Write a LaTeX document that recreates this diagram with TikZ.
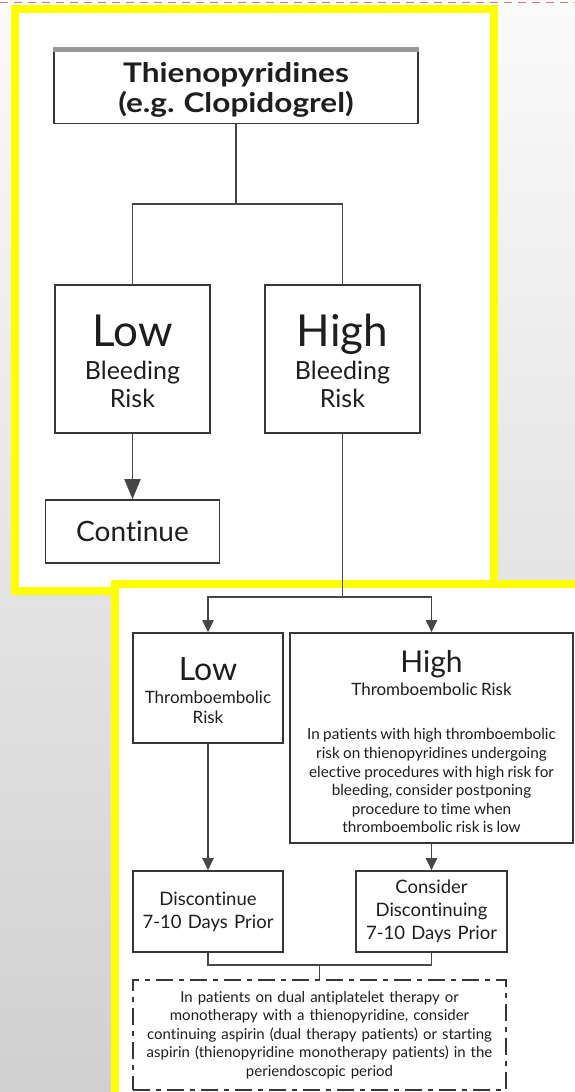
\documentclass[tikz,border=0pt]{standalone}
\usepackage{fontspec}
\setmainfont{Lato}[Ligatures=NoCommon]
\newfontfamily\titlefont{Lato}[Ligatures=NoCommon, FakeStretch=1.17]
\usetikzlibrary{arrows.meta}
\frenchspacing

\definecolor{hiliteyellow}{RGB}{255,255,0}
\definecolor{boxline}{RGB}{55,55,55}
\definecolor{linkline}{RGB}{70,70,70}
\definecolor{inktext}{RGB}{30,30,30}
\definecolor{pagetop}{RGB}{250,250,250}
\definecolor{pagebottom}{RGB}{208,208,208}
\definecolor{cutline}{RGB}{205,125,125}

\tikzset{
  panel/.style={draw=hiliteyellow, line width=8pt, fill=white},
  riskbox/.style={draw=boxline, line width=1.6pt, fill=white, align=center,
    inner sep=0pt, text=inktext},
  notebox/.style={riskbox, dash pattern=on 17pt off 6pt on 5pt off 6pt},
  link/.style={draw=linkline, line width=1.9pt},
  bigarrow/.style={link, -{Triangle[length=20pt, width=16pt]}},
  smallarrow/.style={link, -{Triangle[length=12pt, width=11pt]}},
}

\begin{document}
\begin{tikzpicture}[x=1pt, y=-1pt]
  \useasboundingbox (0,0) rectangle (575,1092);
  \clip (0,0) rectangle (575,1092);

  \shade[top color=pagetop, bottom color=pagebottom] (0,0) rectangle (575,1092);
  \draw[cutline, dash pattern=on 8pt off 6pt, line width=1pt] (0,2.5) -- (575,2.5);

  \draw[panel] (15,9) rectangle (494,591);
  \draw[panel] (114.5,583.5) rectangle (600,1120);

  \node[riskbox, minimum width=364pt, minimum height=73pt, text width=360pt,
    font=\titlefont\bfseries\fontsize{27}{30}\selectfont] (title) at (236,87)
    {\rule{0pt}{26pt}Thienopyridines\\(e.g. Clopidogrel)};
  \draw[black!40, line width=5pt] (title.north west) -- (title.north east);

  \node[riskbox, minimum width=155pt, minimum height=148pt, text width=150pt] (lowbleed) at (132.5,359)
    {\fontsize{44}{44}\selectfont\rule{0pt}{36pt}Low\par\vspace{5pt}\fontsize{25}{28}\selectfont Bleeding\par Risk\par};
  \node[riskbox, minimum width=155pt, minimum height=148pt, text width=150pt] (highbleed) at (342.5,359)
    {\fontsize{44}{44}\selectfont\rule{0pt}{36pt}High\par\vspace{5pt}\fontsize{25}{28}\selectfont Bleeding\par Risk\par};
  \node[riskbox, minimum width=174pt, minimum height=63pt, font=\fontsize{28}{30}\selectfont] (cont) at (132.5,531.5)
    {Continue};

  \node[riskbox, minimum width=150pt, minimum height=110pt, text width=146pt] (lowthromb) at (208,688)
    {\fontsize{32}{32}\selectfont\rule{0pt}{29pt}Low\par\vspace{3pt}\fontsize{17}{20}\selectfont Thromboembolic\par Risk\par};
  \node[riskbox, minimum width=283pt, minimum height=210pt, text width=277pt] (highthromb) at (431.5,738)
    {\fontsize{30}{30}\selectfont\rule{0pt}{30pt}High\par\fontsize{17}{23}\selectfont Thromboembolic Risk\par\vspace{25.4pt}%
     \fontsize{15.3}{18.6}\selectfont In patients with high thromboembolic\\risk on thienopyridines undergoing\\
     elective procedures with high risk for\\bleeding, consider postponing\\procedure to time when\\
     thromboembolic risk is low\par};

  \node[riskbox, minimum width=150pt, minimum height=81pt, text width=146pt,
    font=\fontsize{18.5}{23}\selectfont] (discont) at (208,911.5)
    {Discontinue\\7-10 Days Prior};
  \node[riskbox, minimum width=151pt, minimum height=81pt, text width=147pt,
    font=\fontsize{18.5}{23}\selectfont] (consider) at (431.5,911.5)
    {Consider\\Discontinuing\\7-10 Days Prior};

  \node[notebox, minimum width=373pt, minimum height=110pt, text width=369pt,
    font=\fontsize{15}{18.5}\selectfont] (dualnote) at (319.5,1035)
    {In patients on dual antiplatelet therapy or\\monotherapy with a thienopyridine, consider\\
     continuing aspirin (dual therapy patients) or starting\\aspirin (thienopyridine monotherapy patients) in the\\
     periendoscopic period};

  \coordinate (fork1) at (236,204);
  \coordinate (fork2) at (342.5,597);
  \coordinate (merge) at (319.5,965);

  \draw[link] (title.south) -- (fork1);
  \draw[link] (lowbleed.north) |- (fork1) -| (highbleed.north);
  \draw[bigarrow] (lowbleed.south) -- (cont.north);
  \draw[link] (highbleed.south) -- (fork2);
  \draw[smallarrow] (fork2) -| (lowthromb.north);
  \draw[smallarrow] (fork2) -| (highthromb.north);
  \draw[smallarrow] (lowthromb.south) -- (discont.north);
  \draw[smallarrow] (highthromb.south) -- (consider.north);
  \draw[link] (discont.south) |- (merge) -| (consider.south);
  \draw[link] (merge) -- (dualnote.north);
\end{tikzpicture}
\end{document}
